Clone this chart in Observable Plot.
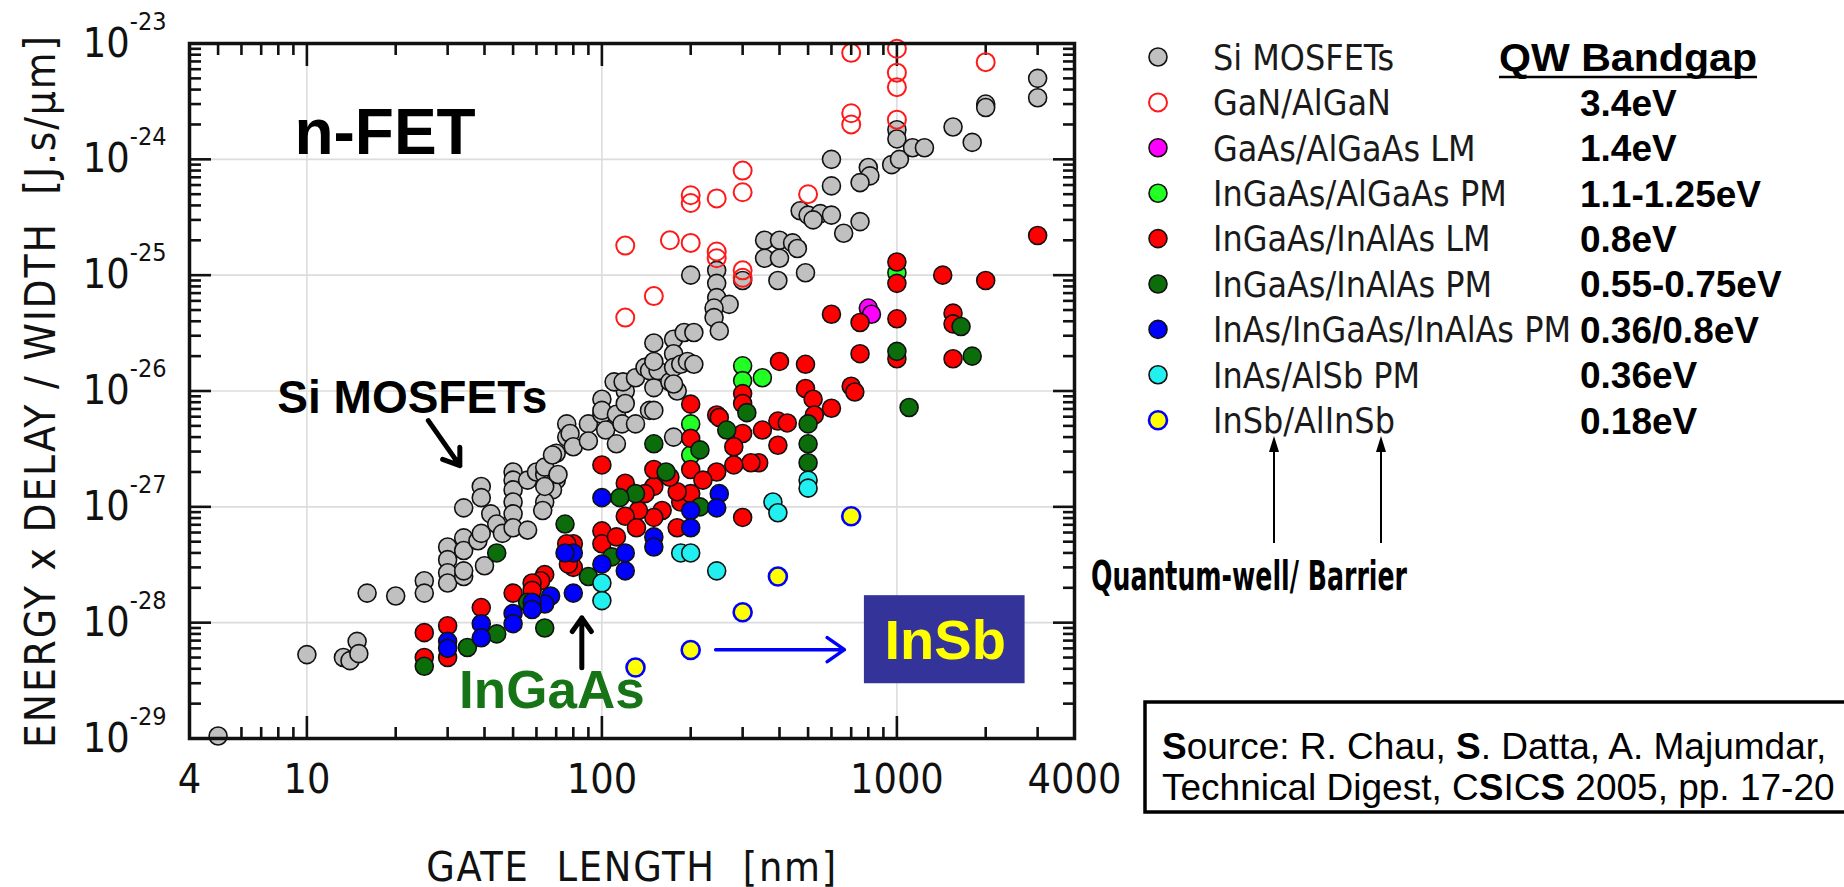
<!DOCTYPE html>
<html>
<head>
<meta charset="utf-8">
<script src="https://cdn.jsdelivr.net/npm/d3@7"></script>
<script src="https://cdn.jsdelivr.net/npm/@observablehq/plot@0.6"></script>
<style>
  body { margin: 0; background: #fff; }
  #wrap { position: relative; width: 1844px; height: 887px; overflow: hidden; background: #fff; }
  #wrap > svg { position: absolute; left: 0; top: 0; }
</style>
</head>
<body>
<div id="wrap"></div>
<script>
// Gate length (nm) vs. energy × delay / width (J·s/µm), n-channel FETs by material system.
const siMosfets = [
  [5,1.05e-29],[10,5.3e-29],[13.3,5.0e-29],[14,4.7e-29],[14.8,6.9e-29],[15,5.4e-29],
  [16,1.8e-28],[20,1.7e-28],[25,2.3e-28],[25,1.8e-28],
  [30,4.5e-28],[30,3.5e-28],[30,2.7e-28],[30,2.2e-28],
  [34,2.5e-28],[34,2.8e-28],[34,5.4e-28],[34,4.2e-28],[34,9.8e-28],
  [38,5.1e-28],[39,5.9e-28],[39,1.5e-27],[39,1.2e-27],[40,3.1e-28],
  [42,8.7e-28],[44,7.1e-28],[46,5.9e-28],
  [50,2.0e-27],[50,1.7e-27],[50,1.4e-27],[50,1.1e-27],[50,8.7e-28],[50,6.6e-28],
  [56,1.7e-27],[56,6.3e-28],[60,2.0e-27],[64,1.9e-27],[70,1.7e-27],[68,1.4e-27],[64,1.1e-27],[63,9.3e-28],
  [64,2.2e-27],[64,1.5e-27],[70,2.9e-27],[71,1.9e-27],[68,2.8e-27],[76,4.0e-27],[76,5.2e-27],
  [78,4.3e-27],[80,3.3e-27],[90,5.2e-27],[90,3.7e-27],
  [100,6.3e-27],[100,8.5e-27],[100,6.8e-27],[103,4.6e-27],[112,6.3e-27],[112,3.5e-27],[117,5.2e-27],
  [130,5.2e-27],[145,6.8e-27],[175,4.0e-27],
  [120,1.0e-26],[120,7.8e-27],[150,1.07e-26],[150,6.8e-27],[110,1.2e-26],[118,1.2e-26],[130,1.3e-26],
  [140,1.6e-26],[145,1.5e-26],[155,1.5e-26],[170,1.2e-26],[180,1.0e-26],
  [150,2.6e-26],[175,2.8e-26],[175,2.1e-26],[175,1.6e-26],[175,1.15e-26],[150,1.8e-26],[185,1.7e-26],
  [195,1.8e-26],[205,1.7e-26],[190,3.2e-26],[205,3.2e-26],
  [200,1.0e-25],[245,1.1e-25],[245,8.5e-26],[245,6.4e-26],[270,5.6e-26],[240,5.2e-26],[240,4.3e-26],
  [250,3.3e-26],[300,9.0e-26],
  [356,2.0e-25],[400,2.0e-25],[443,1.9e-25],[460,1.7e-25],[356,1.4e-25],[400,1.4e-25],[490,1.05e-25],[395,9.0e-26],
  [470,3.6e-25],[500,3.3e-25],[550,3.4e-25],[600,3.3e-25],[520,3.0e-25],[660,2.3e-25],[750,2.9e-25],
  [600,1.0e-24],[600,5.9e-25],[800,8.5e-25],[810,7.2e-25],[750,6.3e-25],
  [960,9.0e-25],[1020,1.0e-24],[1000,1.8e-24],[1000,1.5e-24],[1130,1.26e-24],[1240,1.26e-24],
  [1550,1.9e-24],[1800,1.4e-24],[2000,3.0e-24],[2000,2.8e-24],[3000,5.0e-24],[3000,3.4e-24]
];
const ganAlgan = [
  [120,1.8e-25],[120,4.3e-26],[150,6.6e-26],[170,2.0e-25],[200,1.9e-25],[200,4.9e-25],[200,4.2e-25],
  [245,4.6e-25],[245,1.6e-25],[245,1.4e-25],[300,5.2e-25],[300,8.0e-25],[300,1.1e-25],[300,9.5e-26],
  [500,5.0e-25],[700,8.3e-24],[700,2.5e-24],[700,2.0e-24],
  [1000,9.0e-24],[1000,5.6e-24],[1000,4.2e-24],[1000,2.2e-24],[2000,6.9e-24]
];
const gaasAlgaasLM = [[800,5.2e-26],[820,4.6e-26]];
const ingaasAlgaasPM = [[1000,1.05e-25],[350,1.3e-26],[300,1.65e-26],[300,1.23e-26],[200,5.2e-27],[200,2.8e-27]];
const ingaasInalasLM = [
  [3000,2.2e-25],[1000,1.3e-25],[1000,8.5e-26],[1430,1.0e-25],[2000,9.0e-26],
  [600,4.6e-26],[750,3.9e-26],[1000,4.2e-26],[1550,4.7e-26],[1550,3.8e-26],
  [750,2.1e-26],[1000,1.9e-26],[1550,1.9e-26],[400,1.8e-26],[490,1.7e-26],
  [700,1.1e-26],[720,9.8e-27],[490,1.05e-26],[520,8.5e-27],[600,7.1e-27],[525,6.2e-27],
  [395,5.5e-27],[425,5.3e-27],[350,4.6e-27],[395,3.4e-27],[340,2.4e-27],
  [300,9.5e-27],[300,7.8e-27],[245,6.2e-27],
  [200,7.7e-27],[200,3.9e-27],[200,2.1e-27],[250,5.9e-27],[300,4.3e-27],[280,3.3e-27],[320,2.4e-27],
  [280,2.3e-27],[245,2.0e-27],[220,1.7e-27],
  [300,8.1e-28],[180,6.6e-28],[185,1.1e-27],[200,1.3e-27],[180,1.35e-27],[160,9.3e-28],[150,8.1e-28],
  [133,9.3e-28],[120,8.3e-28],[131,6.6e-28],
  [150,1.5e-27],[150,2.1e-27],[120,1.6e-27],[140,1.3e-27],[170,1.8e-27],[100,2.3e-27],
  [100,6.2e-28],[100,4.8e-28],[112,5.5e-28],[80,4.8e-28],[80,3.0e-28],[76,4.8e-28],[77,3.2e-28],
  [64,2.6e-28],[62,2.3e-28],[58,2.2e-28],[58,1.9e-28],[50,1.8e-28],[39,1.35e-28],
  [30,9.4e-29],[30,5.0e-29],[25,8.2e-29],[25,5.0e-29]
];
const ingaasInalasPM = [
  [1650,3.6e-26],[1000,2.2e-26],[1800,2.0e-26],[1100,7.2e-27],[500,5.2e-27],[500,3.5e-27],[500,2.4e-27],
  [310,6.5e-27],[265,4.6e-27],[215,3.1e-27],[150,3.5e-27],[165,2.0e-27],[215,1.0e-27],[130,1.3e-27],
  [115,1.2e-27],[108,3.7e-28],[90,2.5e-28],[75,7.1e-28],[64,9.0e-29],[56,1.5e-28],[44,4.0e-28],
  [44,8.0e-29],[35,6.1e-29],[25,4.2e-29]
];
const inasIngaasInalasPM = [
  [250,1.3e-27],[245,9.8e-28],[200,9.3e-28],[200,6.6e-28],[100,1.2e-27],[150,5.5e-28],[150,4.5e-28],
  [120,4.0e-28],[120,2.8e-28],[100,3.2e-28],[80,4.0e-28],[75,4.0e-28],[80,1.8e-28],[67,1.7e-28],
  [64,1.45e-28],[58,1.5e-28],[58,1.3e-28],[50,1.2e-28],[50,9.8e-29],[39,9.8e-29],[39,7.4e-29],
  [30,6.9e-29],[30,6.0e-29]
];
const inasAlsbPM = [
  [500,1.7e-27],[500,1.45e-27],[380,1.1e-27],[395,8.9e-28],[185,4.0e-28],[200,4.0e-28],[245,2.8e-28],
  [100,2.2e-28],[100,1.55e-28]
];
const insbAlinsb = [[700,8.3e-28],[395,2.5e-28],[300,1.23e-28],[200,5.8e-29],[130,4.1e-29]];

// Legend text, in legend order
const legendLabels = ["Si MOSFETs","GaN/AlGaN","GaAs/AlGaAs LM","InGaAs/AlGaAs PM","InGaAs/InAlAs LM",
  "InGaAs/InAlAs PM","InAs/InGaAs/InAlAs PM","InAs/AlSb PM","InSb/AlInSb"];
const bandgaps = ["","3.4eV","1.4eV","1.1-1.25eV","0.8eV","0.55-0.75eV","0.36/0.8eV","0.36eV","0.18eV"];

// Axis ticks
const xTickLabels = [4, 10, 100, 1000, 4000];
const yTickLabels = [1e-29, 1e-28, 1e-27, 1e-26, 1e-25, 1e-24, 1e-23];
const xMajor = [10, 100, 1000];
const yMajor = [1e-28, 1e-27, 1e-26, 1e-25, 1e-24];
const xMinor = [5,6,7,8,9, 20,30,40,50,60,70,80,90, 200,300,400,500,600,700,800,900, 2000,3000];
const yMinor = d3.range(-29, -23).flatMap(e => d3.range(2, 10).map(k => k * Math.pow(10, e)));

// Marker styles, in legend order
const styles = [
  {data: siMosfets,          fill: "#c0c0c0", stroke: "#111", sw: 1.6},
  {data: ganAlgan,           fill: "none",    stroke: "#ff1a1a", sw: 2},
  {data: gaasAlgaasLM,       fill: "#ff00ff", stroke: "#111", sw: 1.6},
  {data: ingaasAlgaasPM,     fill: "#22ff22", stroke: "#111", sw: 1.6},
  {data: ingaasInalasLM,     fill: "#ff0000", stroke: "#111", sw: 1.6},
  {data: ingaasInalasPM,     fill: "#0b6e0b", stroke: "#111", sw: 1.6},
  {data: inasIngaasInalasPM, fill: "#0000ff", stroke: "#111", sw: 1.6},
  {data: inasAlsbPM,         fill: "#22f0f0", stroke: "#111", sw: 1.6},
  {data: insbAlinsb,         fill: "#ffff00", stroke: "#0000ff", sw: 2.6}
];
const drawOrder = [0, 1, 3, 2, 4, 5, 6, 7, 8];

// Annotations (data coordinates)
const labelNotes = [
  {text: "n-FET", x: 9.07, y: 1.12e-24, size: 64, color: "#000"},
  {text: "Si MOSFETs", x: 7.94, y: 6.5e-27, size: 46, color: "#000"},
  {text: "InGaAs", x: 32.8, y: 1.85e-29, size: 53, color: "#167416"}
];
const insbBox = {x1: 776, x2: 2720, y1: 2.97e-29, y2: 1.71e-28};
const insbText = {text: "InSb", x: 1458, y: 4.89e-29};
const blackArrows = [
  {x1: 25.8, y1: 5.55e-27, x2: 33.0, y2: 2.27e-27},
  {x1: 85.5, y1: 4.08e-29, x2: 85.5, y2: 1.10e-28}
];
const blueArrow = [{x1: 243, y1: 5.85e-29, x2: 664, y2: 5.85e-29}];

const xTitle = "GATE\u00a0 LENGTH\u00a0 [nm]";
const yTitle = "ENERGY x DELAY / WIDTH\u00a0 [J.s/µm]";

const W = 1844, H = 887;
const FL = 189, FR = 1074, FT = 43, FB = 738;
const thin = '"DejaVu Sans Condensed", "DejaVu Sans", sans-serif';
const bold = '"Liberation Sans", Arial, sans-serif';
const narrow = '"Liberation Sans Narrow", "Arial Narrow", "DejaVu Sans Condensed", sans-serif';

const tickOpts = {tickFormat: () => "", label: null, strokeWidth: 2.6};

const chart = Plot.plot({
  width: W, height: H,
  marginLeft: FL, marginRight: W - FR, marginTop: FT, marginBottom: H - FB,
  x: {type: "log", domain: [4, 4000]},
  y: {type: "log", domain: [1e-29, 1e-23]},
  style: {fontFamily: thin, background: "transparent", overflow: "visible", color: "#111"},
  marks: [
    Plot.gridX(xMajor, {stroke: "#dcdcdc", strokeOpacity: 1, strokeWidth: 1.6}),
    Plot.gridY(yMajor, {stroke: "#dcdcdc", strokeOpacity: 1, strokeWidth: 1.6}),
    // inward ticks on all four sides
    Plot.axisX(xMajor, {anchor: "bottom", tickSize: -22, ...tickOpts}),
    Plot.axisX(xMinor, {anchor: "bottom", tickSize: -11, ...tickOpts}),
    Plot.axisX(xMajor, {anchor: "top", tickSize: -22, ...tickOpts}),
    Plot.axisX(xMinor, {anchor: "top", tickSize: -11, ...tickOpts}),
    Plot.axisY(yMajor, {anchor: "left", tickSize: -22, ...tickOpts}),
    Plot.axisY(yMinor, {anchor: "left", tickSize: -12, ...tickOpts}),
    Plot.axisY(yMajor, {anchor: "right", tickSize: -22, ...tickOpts}),
    Plot.axisY(yMinor, {anchor: "right", tickSize: -12, ...tickOpts}),
    // tick labels
    Plot.text(xTickLabels, {x: d => d, frameAnchor: "bottom", dy: 25, lineAnchor: "top", fontSize: 41,
      text: d => String(d), fill: "#111"}),
    Plot.axisY(yTickLabels, {anchor: "left", tickSize: 0, tickPadding: 23, fontSize: 41,
      tickFormat: d => `10^${Math.round(Math.log10(d))}`, label: null}),
    Plot.text([xTitle], {frameAnchor: "bottom", dy: 142, textAnchor: "middle", lineAnchor: "bottom",
      fontSize: 41, text: d => d, fill: "#111"}),
    Plot.text([yTitle], {frameAnchor: "left", dx: -148, rotate: -90, textAnchor: "middle",
      lineAnchor: "middle", fontSize: 42, text: d => d, fill: "#111"}),
    // data points
    ...drawOrder.map(i => {
      const s = styles[i];
      return Plot.dot(s.data, {x: d => d[0], y: d => d[1], r: 9, fill: s.fill, stroke: s.stroke,
        strokeWidth: s.sw});
    }),
    // annotations
    Plot.text(labelNotes, {x: "x", y: "y", text: "text", fontSize: d => d.size, fill: "color",
      fontWeight: "bold", fontFamily: bold, textAnchor: "start", lineAnchor: "bottom"}),
    Plot.arrow(blackArrows, {x1: "x1", y1: "y1", x2: "x2", y2: "y2", stroke: "#000",
      strokeWidth: 5, headLength: 9, headAngle: 70}),
    Plot.rect([insbBox], {x1: "x1", x2: "x2", y1: "y1", y2: "y2", fill: "#333399"}),
    Plot.text([insbText], {x: "x", y: "y", text: "text", fill: "#ffff00", fontSize: 56,
      fontWeight: "bold", fontFamily: bold, lineAnchor: "bottom"}),
    Plot.arrow(blueArrow, {x1: "x1", y1: "y1", x2: "x2", y2: "y2", stroke: "#0000ff",
      strokeWidth: 3.5, headLength: 9, headAngle: 70}),
    Plot.frame({stroke: "#111", strokeWidth: 3.5})
  ]
});

// tick-only axes leave empty labels behind
d3.select(chart).selectAll("text").filter(function () { return this.textContent === ""; }).remove();

// superscript exponents on the y tick labels
d3.select(chart).selectAll('g[aria-label="y-axis tick label"] text').each(function () {
  const t = this.textContent;
  if (!t.includes("^")) return;
  const [base, exp] = t.split("^");
  const sel = d3.select(this);
  sel.text(base);
  sel.append("tspan").attr("font-size", 25).attr("dy", -27).text(exp);
});

const wrap = document.getElementById("wrap");
wrap.appendChild(chart);

// spread the axis titles to their drawn length
function fitLength(content, target) {
  d3.select(chart).selectAll("text").each(function () {
    if (this.textContent !== content) return;
    const len = this.getComputedTextLength();
    const n = content.length;
    if (len > 0 && n > 1) d3.select(this).style("letter-spacing", `${(target - len) / (n - 1)}px`);
  });
}
fitLength(xTitle, 410);
fitLength(yTitle, 712);

// Legend, bandgap column, quantum-well/barrier callout and source box
const side = d3.create("svg").attr("width", W).attr("height", H)
  .style("position", "absolute").style("left", 0).style("top", 0);
const rowY = i => 57 + 45.4 * i;
styles.forEach((s, i) => {
  side.append("circle").attr("cx", 1158).attr("cy", rowY(i)).attr("r", 9)
    .attr("fill", s.fill === "none" ? "#fff" : s.fill).attr("stroke", s.stroke).attr("stroke-width", s.sw);
  side.append("text").attr("x", 1213).attr("y", rowY(i)).attr("dy", "0.36em")
    .attr("font-family", thin).attr("font-size", 35.5).attr("fill", "#1a1a1a").text(legendLabels[i]);
  if (bandgaps[i]) side.append("text").attr("x", 1580).attr("y", rowY(i)).attr("dy", "0.36em")
    .attr("font-family", bold).attr("font-weight", "bold").attr("font-size", 37).attr("fill", "#000")
    .text(bandgaps[i]);
});
side.append("text").attr("x", 1499).attr("y", rowY(0)).attr("dy", "0.36em")
  .attr("font-family", bold).attr("font-weight", "bold").attr("font-size", 39).attr("fill", "#000")
  .attr("textLength", 258).attr("lengthAdjust", "spacingAndGlyphs").text("QW Bandgap");
side.append("line").attr("x1", 1499).attr("x2", 1757).attr("y1", rowY(0) + 20).attr("y2", rowY(0) + 20)
  .attr("stroke", "#000").attr("stroke-width", 2.5);

// arrows pointing at the well and barrier materials
[1274, 1381].forEach(x => {
  side.append("line").attr("x1", x).attr("x2", x).attr("y1", 543).attr("y2", 448)
    .attr("stroke", "#000").attr("stroke-width", 2);
  side.append("path").attr("d", `M${x},436 L${x - 5},452 L${x + 5},452 Z`).attr("fill", "#000");
});
side.append("text").attr("x", 1091).attr("y", 590).attr("font-family", narrow).attr("font-weight", "bold")
  .attr("font-size", 40).attr("fill", "#000")
  .attr("textLength", 316).attr("lengthAdjust", "spacingAndGlyphs").text("Quantum-well/ Barrier");

// source box
side.append("rect").attr("x", 1145).attr("y", 702).attr("width", 760).attr("height", 110)
  .attr("fill", "#fff").attr("stroke", "#000").attr("stroke-width", 3.5);
const src1 = side.append("text").attr("x", 1162).attr("y", 759).attr("font-family", bold)
  .attr("font-size", 37).attr("fill", "#000");
[["S", true], ["ource: R. Chau, ", false], ["S", true], [". Datta, A. Majumdar,", false]]
  .forEach(([t, b]) => src1.append("tspan").attr("font-weight", b ? "bold" : "normal").text(t));
const src2 = side.append("text").attr("x", 1162).attr("y", 800).attr("font-family", bold)
  .attr("font-size", 37).attr("fill", "#000");
[["Technical Digest, C", false], ["S", true], ["IC", false], ["S", true], [" 2005, pp. 17-20", false]]
  .forEach(([t, b]) => src2.append("tspan").attr("font-weight", b ? "bold" : "normal").text(t));

wrap.appendChild(side.node());
</script>
</body>
</html>
